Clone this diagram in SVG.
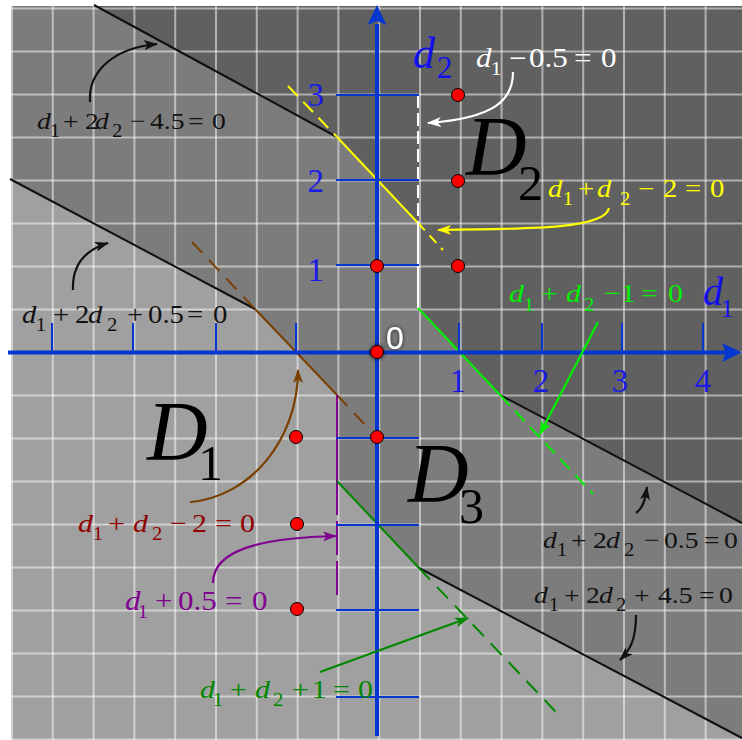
<svg xmlns="http://www.w3.org/2000/svg" width="742" height="740" viewBox="0 0 742 740">
<style>
.eq{font-family:"Liberation Serif","Times New Roman",serif;font-size:25px}
.v{font-style:italic}
.sb{font-size:18px}
.grid{stroke:#ffffff;stroke-opacity:0.5;stroke-width:2;fill:none}
.ax{stroke:#0537d0;stroke-width:4;fill:none}
.tk{stroke:#0537d0;stroke-width:2;fill:none}
.tl{font-family:"Liberation Serif","Times New Roman",serif;font-size:33px;fill:#1a1ae6}
.big{font-family:"Liberation Serif","Times New Roman",serif;font-style:italic;fill:#000}
.ln{fill:none;stroke-width:2}
.arr{fill:none;stroke-width:2.2}
.pt{fill:#ff0000;stroke:#000;stroke-width:1}
</style>
<defs>
<marker id="mBlack" viewBox="0 0 14 10" refX="13" refY="5" markerWidth="14" markerHeight="10" markerUnits="userSpaceOnUse" orient="auto"><path d="M0,0 L14,5 L0,10 L3.5,5 z" fill="#111"/></marker>
<marker id="mWhite" viewBox="0 0 14 10" refX="13" refY="5" markerWidth="14" markerHeight="10" markerUnits="userSpaceOnUse" orient="auto"><path d="M0,0 L14,5 L0,10 L3.5,5 z" fill="#fff"/></marker>
<marker id="mYellow" viewBox="0 0 14 10" refX="13" refY="5" markerWidth="14" markerHeight="10" markerUnits="userSpaceOnUse" orient="auto"><path d="M0,0 L14,5 L0,10 L3.5,5 z" fill="#ffff00"/></marker>
<marker id="mLime" viewBox="0 0 14 10" refX="13" refY="5" markerWidth="14" markerHeight="10" markerUnits="userSpaceOnUse" orient="auto"><path d="M0,0 L14,5 L0,10 L3.5,5 z" fill="#00f000"/></marker>
<marker id="mBrown" viewBox="0 0 14 10" refX="13" refY="5" markerWidth="14" markerHeight="10" markerUnits="userSpaceOnUse" orient="auto"><path d="M0,0 L14,5 L0,10 L3.5,5 z" fill="#7a4000"/></marker>
<marker id="mPurple" viewBox="0 0 14 10" refX="13" refY="5" markerWidth="14" markerHeight="10" markerUnits="userSpaceOnUse" orient="auto"><path d="M0,0 L14,5 L0,10 L3.5,5 z" fill="#800090"/></marker>
<marker id="mGreen" viewBox="0 0 14 10" refX="13" refY="5" markerWidth="14" markerHeight="10" markerUnits="userSpaceOnUse" orient="auto"><path d="M0,0 L14,5 L0,10 L3.5,5 z" fill="#008800"/></marker>
<filter id="halo" x="-60%" y="-60%" width="220%" height="220%"><feGaussianBlur in="SourceAlpha" stdDeviation="2"/><feComponentTransfer><feFuncA type="linear" slope="0.8"/></feComponentTransfer><feMerge><feMergeNode/><feMergeNode in="SourceGraphic"/></feMerge></filter>
</defs>
<rect x="0" y="0" width="742" height="740" fill="#ffffff"/>
<g id="regions">
<rect x="11" y="6" width="731" height="734" fill="#7c7c7c"/>
<path d="M95,6 L742,6 L742,523 L500,395 L418,308 L418,223 L337,137 Z" fill="#606060"/>
<path d="M11,179 L255,309 L337,395 L337,481 L419,568 L742,738 L742,740 L11,740 Z" fill="#a0a0a0"/>
</g>
<g id="grid">
<path class="grid" d="M12,6V740M52.8,6V740M93.6,6V740M134.4,6V740M175.2,6V740M216,6V740M256.8,6V740M297.6,6V740M338.4,6V740M379.2,6V740M420,6V740M460.8,6V740M501.6,6V740M542.4,6V740M583.2,6V740M624,6V740M664.8,6V740M705.6,6V740"/>
<path class="grid" d="M11,8.5H742M11,51.5H742M11,94.5H742M11,137.5H742M11,180.5H742M11,223.5H742M11,266.5H742M11,309.5H742M11,352.5H742M11,395.5H742M11,438.5H742M11,481.5H742M11,524.5H742M11,567.5H742M11,610.5H742M11,653.5H742M11,696.5H742M11,739.5H742"/>
</g>
<g id="boundaries">
<path class="ln" stroke="#111" d="M94,5 L337,137"/>
<path class="ln" stroke="#111" d="M10,179 L255,309"/>
<path class="ln" stroke="#111" d="M500,395 L742,523"/>
<path class="ln" stroke="#111" d="M419,568 L742,738"/>
<path class="ln" stroke="#ffff00" d="M337,137 L418,223"/>
<path class="ln" stroke="#ffff00" stroke-dasharray="14,8" d="M288,86 L337,137"/>
<path class="ln" stroke="#ffff00" stroke-dasharray="10,7" d="M418,223 L443,250"/>
<path class="ln" stroke="#ffffff" stroke-width="2.5" d="M418,223 L418,308"/>
<path class="ln" stroke="#ffffff" stroke-width="2.5" stroke-dasharray="13,5" d="M418,95 L418,223"/>
<path class="ln" stroke="#00f000" d="M418,308 L500,395"/>
<path class="ln" stroke="#00f000" stroke-dasharray="14,8" d="M500,395 L593,494"/>
<path class="ln" stroke="#7a4000" d="M255,309 L337,395"/>
<path class="ln" stroke="#7a4000" stroke-dasharray="15,10" d="M192,242 L255,309"/>
<path class="ln" stroke="#7a4000" stroke-dasharray="15,10" d="M337,395 L368,428"/>
<path class="ln" stroke="#800090" d="M337,395 L337,481"/>
<path class="ln" stroke="#800090" stroke-dasharray="34,6" d="M337,481 L337,598"/>
<path class="ln" stroke="#008800" d="M337,481 L419,568"/>
<path class="ln" stroke="#008800" stroke-dasharray="16,10" d="M419,568 L556,712"/>
</g>
<g id="axes">
<path class="ax" d="M8,352.5 H726"/>
<path d="M742,352.5 L722,343 L726,352.5 L722,362 Z" fill="#0537d0"/>
<path class="ax" d="M377,736 V24"/>
<path d="M377,5 L367.5,25 L377,21 L386.5,25 Z" fill="#0537d0"/>
<path class="tk" d="M52,323V352M133,323V352M216,323V352M296,323V352M459,323V352M542,323V352M622,323V352M703,323V352"/>
<path class="tk" d="M336,95H419M336,180H419M336,265H419M336,438H419M336,525H419M336,610H419M336,697H419"/>
<text class="tl" x="324" y="106" text-anchor="end">3</text>
<text class="tl" x="324" y="192" text-anchor="end">2</text>
<text class="tl" x="324" y="281" text-anchor="end">1</text>
<text class="tl" x="458" y="392" text-anchor="middle">1</text>
<text class="tl" x="541" y="392" text-anchor="middle">2</text>
<text class="tl" x="620" y="392" text-anchor="middle">3</text>
<text class="tl" x="703" y="392" text-anchor="middle">4</text>
<text id="lbl-d2" font-family="Liberation Serif, Times New Roman, serif" fill="#1010ee"><tspan font-style="italic" font-size="44" x="413" y="68">d</tspan><tspan font-size="31" x="437" y="78">2</tspan></text>
<text id="lbl-d1" font-family="Liberation Serif, Times New Roman, serif" fill="#1010ee"><tspan font-style="italic" font-size="40" x="703" y="305">d</tspan><tspan font-size="25" x="721" y="317">1</tspan></text>
<text id="lbl-origin" x="386" y="349" font-family="Liberation Sans, Arial, sans-serif" font-size="32" fill="#ffffff" filter="url(#halo)">0</text>
</g>
<g id="points">
<circle class="pt" cx="458" cy="95" r="6.5"/>
<circle class="pt" cx="458" cy="181" r="6.5"/>
<circle class="pt" cx="458" cy="266" r="6.5"/>
<circle class="pt" cx="377" cy="266" r="6.5"/>
<circle class="pt" cx="377" cy="352" r="6.5" filter="url(#halo)"/>
<circle class="pt" cx="296" cy="437" r="6.5"/>
<circle class="pt" cx="377" cy="437" r="6.5"/>
<circle class="pt" cx="297" cy="524" r="6.5"/>
<circle class="pt" cx="297" cy="609" r="6.5"/>
</g>
<g id="regions-labels">
<text class="big"><tspan font-size="84" x="466" y="175">D</tspan><tspan font-size="50" font-style="normal" x="518" y="200">2</tspan></text>
<text class="big"><tspan font-size="84" x="147" y="460">D</tspan><tspan font-size="50" font-style="normal" x="198" y="480">1</tspan></text>
<text class="big"><tspan font-size="84" x="408" y="502">D</tspan><tspan font-size="50" font-style="normal" x="459" y="523">3</tspan></text>
</g>
<g id="connectors">
<path class="arr" stroke="#111" marker-end="url(#mBlack)" d="M90,102 C88,70 115,48 157,44"/>
<path class="arr" stroke="#111" marker-end="url(#mBlack)" d="M73,290 C72,265 85,250 108,243"/>
<path class="arr" stroke="#fff" marker-end="url(#mWhite)" d="M513,72 C513,100 495,118 428,123"/>
<path class="arr" stroke="#ffff00" marker-end="url(#mYellow)" d="M609,208 C605,228 540,229 438,230"/>
<path class="arr" stroke="#00f000" marker-end="url(#mLime)" d="M598,322 L540,434"/>
<path class="arr" stroke="#7a4000" marker-end="url(#mBrown)" d="M190,502 C250,497 298,440 298,370"/>
<path class="arr" stroke="#800090" marker-end="url(#mPurple)" d="M213,583 C213,550 260,538 336,536"/>
<path class="arr" stroke="#008800" marker-end="url(#mGreen)" d="M320,672 L468,618"/>
<path class="arr" stroke="#111" marker-end="url(#mBlack)" d="M636,513 C643,508 645,500 647,487"/>
<path class="arr" stroke="#111" marker-end="url(#mBlack)" d="M636,615 C636,640 630,650 620,660"/>
</g>
<g id="equations">
<text id="eq-a" class="eq" fill="#111" transform="translate(37,129) scale(1.15,1)" style="font-size:24px"><tspan class="v" x="0" y="0">d</tspan><tspan class="sb" x="11" y="8">1</tspan><tspan x="22.6" y="0">+</tspan><tspan x="41.7" y="0">2</tspan><tspan class="v" x="50.4" y="0">d</tspan><tspan class="sb" x="65.2" y="8">2</tspan><tspan x="80.9" y="0">−</tspan><tspan x="98.3" y="0">4.5</tspan><tspan x="131.3" y="0">=</tspan><tspan x="152.2" y="0">0</tspan></text>
<text id="eq-b" class="eq" fill="#111" transform="translate(22,323) scale(1.15,1)"><tspan class="v" x="0" y="0">d</tspan><tspan class="sb" x="11.9" y="8">1</tspan><tspan x="27" y="0">+</tspan><tspan x="46.1" y="0">2</tspan><tspan class="v" x="57.4" y="0">d</tspan><tspan class="sb" x="73.9" y="8">2</tspan><tspan x="91.3" y="0">+</tspan><tspan x="109.6" y="0">0.5</tspan><tspan x="143.5" y="0">=</tspan><tspan x="166.1" y="0">0</tspan></text>
<text id="eq-c" class="eq" fill="#ffffff" transform="translate(476,67) scale(1.15,1)" style="font-size:27px"><tspan class="v" x="0" y="0">d</tspan><tspan class="sb" style="font-size:19px" x="12.8" y="8">1</tspan><tspan x="28.7" y="0">−</tspan><tspan x="46.1" y="0">0.5</tspan><tspan x="85.2" y="0">=</tspan><tspan x="108.7" y="0">0</tspan></text>
<text id="eq-d" class="eq" fill="#ffff00" transform="translate(548,197) scale(1.15,1)"><tspan class="v" x="0" y="0">d</tspan><tspan class="sb" x="12.8" y="8">1</tspan><tspan x="26.1" y="0">+</tspan><tspan class="v" x="42.6" y="0">d</tspan><tspan class="sb" x="62.6" y="8">2</tspan><tspan x="78.3" y="0">−</tspan><tspan x="100" y="0">2</tspan><tspan x="119.1" y="0">=</tspan><tspan x="140.9" y="0">0</tspan></text>
<text id="eq-e" class="eq" fill="#00f000" transform="translate(509,302) scale(1.15,1)" style="font-size:26px"><tspan class="v" x="0" y="0">d</tspan><tspan class="sb" x="12.8" y="9">1</tspan><tspan x="27.8" y="0">+</tspan><tspan class="v" x="49.6" y="0">d</tspan><tspan class="sb" x="65.2" y="9">2</tspan><tspan x="82.6" y="0">−</tspan><tspan x="97.1" y="0">1</tspan><tspan x="114.8" y="0">=</tspan><tspan x="138.3" y="0">0</tspan></text>
<text id="eq-f" class="eq" fill="#900000" transform="translate(78,532) scale(1.15,1)" style="font-size:26px"><tspan class="v" x="0" y="0">d</tspan><tspan class="sb" x="12.8" y="8">1</tspan><tspan x="26.1" y="0">+</tspan><tspan class="v" x="47.8" y="0">d</tspan><tspan class="sb" x="64.3" y="8">2</tspan><tspan x="80" y="0">−</tspan><tspan x="99.1" y="0">2</tspan><tspan x="119.1" y="0">=</tspan><tspan x="140.9" y="0">0</tspan></text>
<text id="eq-g" class="eq" fill="#800090" transform="translate(125,610) scale(1.15,1)" style="font-size:27px"><tspan class="v" x="0" y="0">d</tspan><tspan class="sb" x="11" y="8">1</tspan><tspan x="26.1" y="0">+</tspan><tspan x="46.1" y="0">0.5</tspan><tspan x="87" y="0">=</tspan><tspan x="110.4" y="0">0</tspan></text>
<text id="eq-h" class="eq" fill="#008800" transform="translate(200,698) scale(1.15,1)" style="font-size:26px"><tspan class="v" x="0" y="0">d</tspan><tspan class="sb" x="11" y="8">1</tspan><tspan x="26.1" y="0">+</tspan><tspan class="v" x="47.8" y="0">d</tspan><tspan class="sb" x="63.5" y="8">2</tspan><tspan x="80" y="0">+</tspan><tspan x="97.1" y="0">1</tspan><tspan x="115.7" y="0">=</tspan><tspan x="137.4" y="0">0</tspan></text>
<text id="eq-i" class="eq" fill="#111" transform="translate(543,548) scale(1.15,1)" style="font-size:24px"><tspan class="v" x="0" y="0">d</tspan><tspan class="sb" x="11.9" y="8">1</tspan><tspan x="24.3" y="0">+</tspan><tspan x="43.5" y="0">2</tspan><tspan class="v" x="54.8" y="0">d</tspan><tspan class="sb" x="70.4" y="8">2</tspan><tspan x="87.8" y="0">−</tspan><tspan x="105.2" y="0">0.5</tspan><tspan x="140" y="0">=</tspan><tspan x="157.4" y="0">0</tspan></text>
<text id="eq-j" class="eq" fill="#111" transform="translate(534,603) scale(1.15,1)" style="font-size:24px"><tspan class="v" x="0" y="0">d</tspan><tspan class="sb" x="12.8" y="8">1</tspan><tspan x="26.1" y="0">+</tspan><tspan x="45.2" y="0">2</tspan><tspan class="v" x="56.5" y="0">d</tspan><tspan class="sb" x="71.3" y="8">2</tspan><tspan x="87" y="0">+</tspan><tspan x="107.8" y="0">4.5</tspan><tspan x="143.5" y="0">=</tspan><tspan x="160.9" y="0">0</tspan></text>
</g>
</svg>
